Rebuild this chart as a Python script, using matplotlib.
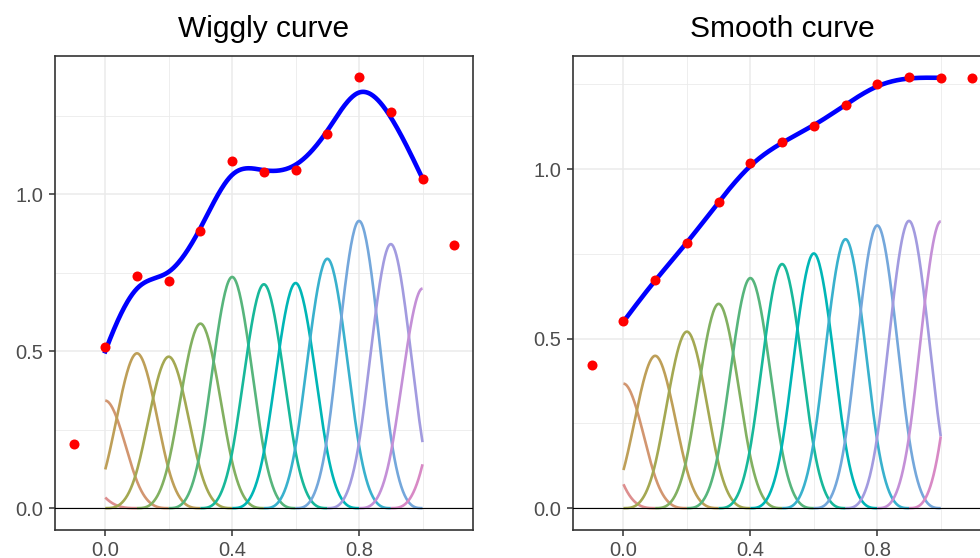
import numpy as np
import matplotlib.pyplot as plt

plt.rcParams['font.family'] = ['Liberation Sans', 'DejaVu Sans']

# knot centres and spline coefficients
knots = [-0.1, 0.0, 0.1, 0.2, 0.3, 0.4, 0.5, 0.6, 0.7, 0.8, 0.9, 1.0, 1.1]
wiggly_coef = [0.203, 0.514, 0.740, 0.724, 0.882, 1.105, 1.070, 1.076, 1.192, 1.373, 1.262, 1.050, 0.839]
smooth_coef = [0.423, 0.551, 0.674, 0.781, 0.904, 1.018, 1.080, 1.127, 1.190, 1.251, 1.271, 1.269, 1.269]
titles = ['Wiggly curve', 'Smooth curve']
x_major = [0.0, 0.4, 0.8]
x_minor = [0.2, 0.6, 1.0]
y_major = [0.0, 0.5, 1.0]
y_minor = [0.25, 0.75, 1.25]

H = 0.1  # knot spacing


def bspline(x, c):
    t = np.abs(x - c) / H
    return np.where(t < 1, 2/3 - t**2 + t**3/2, np.where(t < 2, (2 - t)**3 / 6, 0.0))


def hcl(h, c, l):
    # polarLUV -> sRGB
    un, vn = 0.19784, 0.46834
    Y = ((l + 16) / 116) ** 3 if l > 8 else l / 903.3
    u = c * np.cos(np.radians(h))
    v = c * np.sin(np.radians(h))
    up = u / (13 * l) + un
    vp = v / (13 * l) + vn
    X = Y * 9 * up / (4 * vp)
    Z = Y * (12 - 3 * up - 20 * vp) / (4 * vp)
    M = np.array([[3.2406, -1.5372, -0.4986],
                  [-0.9689, 1.8758, 0.0415],
                  [0.0557, -0.2040, 1.0570]])
    rgb = M @ np.array([X, Y, Z])
    rgb = np.where(rgb <= 0.0031308, 12.92 * rgb, 1.055 * np.clip(rgb, 0, None) ** (1/2.4) - 0.055)
    return tuple(np.clip(rgb, 0, 1))


n = len(knots)
colors = [hcl(12 + 360 * i / 14, 55, 67) for i in range(n)]

fig = plt.figure(figsize=(9.8, 5.58), dpi=100)
W, Hpx = 980, 558
ax_l = fig.add_axes([54.5 / W, 1 - 529.7 / Hpx, 418.8 / W, 474 / Hpx])
ax_r = fig.add_axes([572.7 / W, 1 - 529.7 / Hpx, 418.8 / W, 474 / Hpx])

for ax, coef, title in zip([ax_l, ax_r], [wiggly_coef, smooth_coef], titles):
    xs = np.linspace(0, 1, 400)
    total = np.zeros_like(xs)
    for i, (k, b) in enumerate(zip(knots, coef)):
        lo, hi = max(0, k - 2 * H), min(1, k + 2 * H)
        xx = np.linspace(lo, hi, 150)
        ax.plot(xx, b * bspline(xx, k), color=colors[i], lw=1.9, zorder=2,
                solid_capstyle='butt')
        total += b * bspline(xs, k)
    ax.axhline(0, color='black', lw=0.8, zorder=3)
    ax.plot(xs, total, color='blue', lw=3.3, zorder=4)
    ax.scatter(knots, coef, s=52, color='red', zorder=5, linewidths=0)

    ymax = max(coef)
    ax.set_xlim(-0.1 - 0.06, 1.1 + 0.06)
    ax.set_ylim(-0.05 * ymax, ymax * 1.05)
    ax.set_xticks(x_major)
    ax.set_xticks(x_minor, minor=True)
    ax.set_yticks(y_major)
    ax.set_yticks(y_minor, minor=True)
    ax.set_xticklabels([f'{v:.1f}' for v in x_major])
    ax.set_yticklabels([f'{v:.1f}' for v in y_major])
    ax.grid(which='major', color='#EBEBEB', lw=1.1, zorder=0)
    ax.grid(which='minor', color='#EBEBEB', lw=0.6, zorder=0)
    ax.set_axisbelow(True)
    ax.tick_params(which='major', length=4, width=1.1, color='#333333',
                   labelsize=14.5, labelcolor='#4D4D4D', pad=4)
    ax.tick_params(which='minor', length=0)
    for s in ax.spines.values():
        s.set_color('#333333')
        s.set_linewidth(1.2)
    ax.set_title(title, fontsize=21.5, pad=13.5)

fig.savefig('out.png', dpi=100)
